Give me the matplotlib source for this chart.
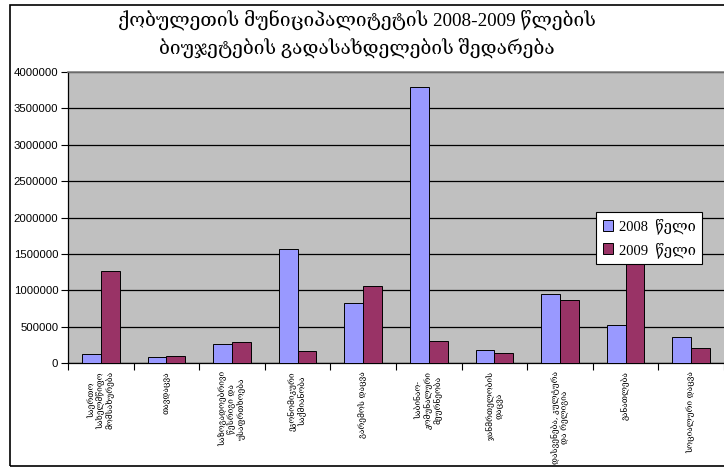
import numpy as np
import matplotlib
matplotlib.use("Agg")
import matplotlib.pyplot as plt
from matplotlib.patches import Rectangle

# budget expenditure by function, GEL
categories = [
    "საერთო\nსახელმწიფო\nმომსახურება",
    "თავდაცვა",
    "საზოგადოებრივი\nწესრიგი და\nუსაფრთხოება",
    "ეკონომიკური\nსაქმიანობა",
    "გარემოს დაცვა",
    "საბინაო-\nკომუნალური\nმეურნეობა",
    "ჯანმრთელობის\nდაცვა",
    "დასვენება, კულტურა\nდა რელიგია",
    "განათლება",
    "სოციალური დაცვა",
]
values_2008 = [125000, 80000, 265000, 1565000, 830000, 3800000, 175000, 945000, 520000, 355000]
values_2009 = [1270000, 95000, 295000, 170000, 1065000, 300000, 140000, 870000, 1800000, 200000]
series_labels = ["2008  წელი", "2009  წელი"]
title_lines = [
    "ქობულეთის მუნიციპალიტეტის 2008-2009 წლების",
    "ბიუჯეტების გადასახდელების შედარება",
]

geo_serif = ["Liberation Serif", "DejaVu Serif", "DejaVu Sans"]

fig = plt.figure(figsize=(7.24, 4.68), dpi=100)
ax = fig.add_axes([68 / 724, 1 - 363 / 468, 1 - 68 / 724, (363 - 72) / 468])

x = np.arange(len(categories))
w = 1 / 3.5
ax.bar(x - w / 2, values_2008, w, color="#9999FF", edgecolor="black", linewidth=0.7,
       label=series_labels[0], zorder=3)
ax.bar(x + w / 2, values_2009, w, color="#993366", edgecolor="black", linewidth=0.7,
       label=series_labels[1], zorder=3)

ax.set_facecolor("#C0C0C0")
ax.set_xlim(-0.5, len(categories) - 0.5)
ax.set_ylim(0, 4000000)
ax.set_yticks(np.arange(0, 4000001, 500000))
ax.set_yticklabels([str(v) for v in range(0, 4000001, 500000)],
                   fontsize=8.2, family="Liberation Sans")
ax.yaxis.grid(True, color="black", linewidth=0.9, zorder=1)
ax.set_axisbelow(True)

ax.set_xticks(x)
ax.set_xticklabels(categories, rotation=90, fontsize=6, family="DejaVu Serif",
                   va="top", ha="center", multialignment="center", linespacing=1.1)
ax.set_xticks(np.arange(-0.5, len(categories), 1), minor=True)
ax.tick_params(axis="x", which="major", length=0, pad=6)
ax.tick_params(axis="x", which="minor", length=5, width=0.8, direction="out")
ax.tick_params(axis="y", length=5, width=0.8, direction="out", pad=2)

ax.spines["top"].set_color("#808080")
ax.spines["top"].set_linewidth(1.2)
ax.spines["right"].set_visible(False)
ax.spines["left"].set_linewidth(0.9)
ax.spines["bottom"].set_linewidth(0.9)

leg = ax.legend(loc="upper left", bbox_to_anchor=(0.805, 0.519), borderaxespad=0,
                frameon=True, fancybox=False, shadow=False, framealpha=1,
                borderpad=0.45, handlelength=0.7, handleheight=0.7,
                handletextpad=0.4, labelspacing=0.5,
                prop={"family": geo_serif, "size": 10.5})
leg.get_frame().set_edgecolor("black")
leg.get_frame().set_linewidth(0.8)
leg.get_frame().set_facecolor("white")
leg.set_zorder(5)

fig.text(0.493, 1 - 20 / 468, title_lines[0], ha="center", va="center",
         fontsize=13.8, family=geo_serif)
fig.text(0.493, 1 - 48 / 468, title_lines[1], ha="center", va="center",
         fontsize=13.8, family=geo_serif)

# chart frame
fig.add_artist(Rectangle((10 / 724, 2 / 468), 1.2, 461 / 468, fill=False,
                         edgecolor="black", linewidth=1.2, transform=fig.transFigure))

fig.savefig("out.png", dpi=100)
